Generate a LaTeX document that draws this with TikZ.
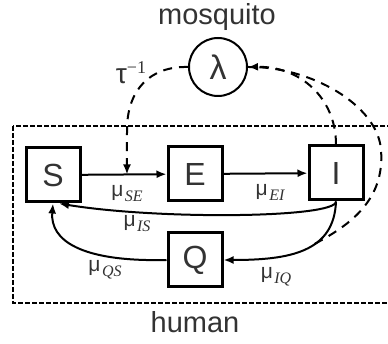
\documentclass[tikz,border=0pt]{standalone}
\usepackage{fontspec}
\setmainfont{Liberation Sans}
\newfontfamily\serifit{Liberation Serif}
\usetikzlibrary{arrows.meta,calc}
\definecolor{txt}{HTML}{333333}
\newcommand{\rate}[1]{{\fontsize{21}{21}\selectfont μ}\hspace{1.5pt}\raisebox{-5pt}{\serifit\itshape\fontsize{16}{16}\selectfont #1}}
\begin{document}
\begin{tikzpicture}[x=1pt,y=-1pt,
  stbox/.style={draw, line width=3pt, minimum size=54pt, inner sep=0pt, font=\fontsize{32}{32}\selectfont, text=txt},
  arr/.style={-{Latex[length=10pt,width=8pt]}, line width=2pt},
  dsh/.style={dash pattern=on 9pt off 7pt, line width=2pt},
  frame/.style={dash pattern=on 5pt off 2pt, line width=2.2pt},
  lbl/.style={text=txt, inner sep=0pt}]
\useasboundingbox (0,0) rectangle (388,344);
\clip (0,0) rectangle (388,344);
% frame
\draw[frame] (13,126) rectangle (400,303);
\node[lbl, font=\fontsize{29}{29}\selectfont] (mos) at (217,17) {mosquito};
\node[lbl, font=\fontsize{29}{29}\selectfont] (hum) at (195,322) {human};
% nodes
\node[draw, circle, line width=2pt, minimum size=58pt, inner sep=0pt, font=\fontsize{34}{34}\selectfont, text=txt] (L) at (218,67) {λ};
\node[stbox] (S) at (53,175) {S};
\node[stbox] (E) at (195,174) {E};
\node[stbox] (I) at (336,173) {I};
\node[stbox] (Q) at (195,260) {Q};
% arrows
\draw[arr] (S) -- (E) coordinate[pos=0.535] (se);
\draw[arr] (E) -- (I);
\draw[arr] (I.south) .. controls (336,218) and (160,220) .. ([xshift=6pt]S.south);
\draw[arr] (Q.west) .. controls (80,262) and (50,240) .. ([xshift=0pt]S.south);
\draw[arr] (I.south) .. controls (334,252) and (290,260) .. (Q.east) coordinate[pos=0.4] (iq);
% dashed links
\draw[dsh, -{Latex[length=10pt,width=8pt]}] (L.west) .. controls (150,66) and (127,90) .. (127,130) -- (se);
\draw[dsh, -{Latex[length=10pt,width=8pt]}] (I.north) .. controls (336,98) and (300,66) .. (L.east);
\draw[dsh] (iq) .. controls (350,225) and (385,200) .. (381,150) .. controls (378,105) and (310,66) .. (L.east);
% labels
\node[lbl] (tau) at (131,73) {\fontsize{28}{28}\selectfont τ\raisebox{10pt}{\serifit\fontsize{18}{18}\selectfont −1}};
\node[lbl] (mse) at (127,194) {\rate{SE}};
\node[lbl] (mei) at (270,192) {\rate{EI}};
\node[lbl] (mis) at (137,224) {\rate{IS}};
\node[lbl] (mqs) at (105,270) {\rate{QS}};
\node[lbl] (miq) at (276,277) {\rate{IQ}};
\end{tikzpicture}
\end{document}
